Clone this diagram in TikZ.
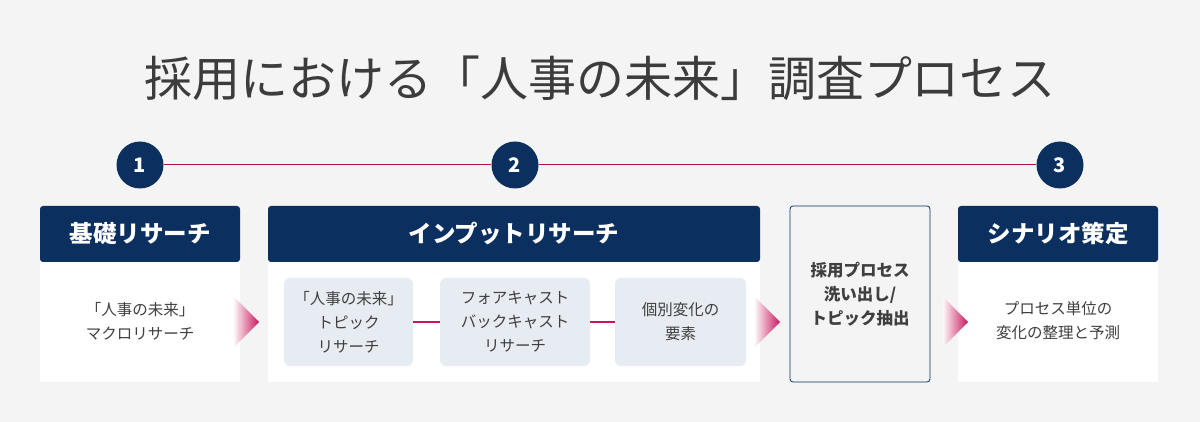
\documentclass[tikz,border=0pt]{standalone}
\usepackage{fontspec}
\setmainfont{Noto Sans CJK JP}
\usepackage{tikz}
\usetikzlibrary{positioning}

\definecolor{bggray}{HTML}{F4F4F4}
\definecolor{navy}{HTML}{0B3060}
\definecolor{accent}{HTML}{C8185C}
\definecolor{topicfill}{HTML}{E6ECF2}
\definecolor{txtgray}{HTML}{3F3F3F}

\begin{document}
\begin{tikzpicture}[x=1pt, y=-1pt,
    every node/.style={font=\fontsize{15.5}{24}\selectfont, text=txtgray, align=center},
    stepnum/.style={
      circle, fill=navy, text=white, minimum size=47pt, inner sep=0pt,
      font=\fontsize{20}{24}\selectfont\bfseries
    },
    headbar/.style={
      fill=navy, text=white, rounded corners=3pt,
      minimum height=56pt, inner sep=0pt,
      font=\fontsize{23.5}{26}\selectfont\bfseries
    },
    bodybox/.style={fill=white, minimum height=150pt, inner sep=0pt},
    topic/.style={
      fill=topicfill, rounded corners=6pt,
      minimum height=88pt, inner sep=0pt
    },
    midbox/.style={
      draw=navy, line width=0.8pt, fill=bggray, rounded corners=3pt,
      minimum width=140pt, minimum height=176pt, inner sep=0pt,
      font=\fontsize{16.5}{24}\selectfont\bfseries
    },
    timeline/.style={draw=accent!85!black, line width=1pt},
    link/.style={draw=accent, line width=2pt},
    chevron/.style={left color=accent!4, right color=accent, draw=none}
  ]

    % canvas
    \fill[bggray] (0,0) rectangle (1200,422);
    \useasboundingbox (0,0) rectangle (1200,422);

    \node[font=\fontsize{48}{52}\selectfont, text=txtgray!95!black] (title) at (600,78)
      {採用における「人事の未来」調査プロセス};

    % step markers
    \node[stepnum] (s1) at (140,165) {1};
    \node[stepnum] (s2) at (515,165) {2};
    \node[stepnum] (s3) at (1060,165) {3};

    % base research
    \node[bodybox, minimum width=200pt] (basebody) at (140,307) {};
    \node[headbar, minimum width=200pt] (basehead) at (140,234) {基礎リサーチ};
    \node (basetxt) at (140,321) {「人事の未来」\\マクロリサーチ};

    % input research
    \node[bodybox, minimum width=492pt] (inbody) at (514,307) {};
    \node[headbar, minimum width=492pt] (inhead) at (514,234) {インプットリサーチ};
    \node[topic, minimum width=129pt] (topa) at (348.5,322) {「人事の未来」\\トピック\\リサーチ};
    \node[topic, minimum width=150pt] (topb) at (515,322) {フォアキャスト\\バックキャスト\\リサーチ};
    \node[topic, minimum width=131pt] (topc) at (680.5,322) {個別変化の\\要素};

    % extraction
    \node[midbox] (extract) at (860,294) {採用プロセス\\洗い出し/\\トピック抽出};

    % scenario
    \node[bodybox, minimum width=200pt] (scnbody) at (1058,307) {};
    \node[headbar, minimum width=200pt] (scnhead) at (1058,234) {シナリオ策定};
    \node (scntxt) at (1058,321) {プロセス単位の\\変化の整理と予測};

    \draw[timeline] (s1) -- (s2);
    \draw[timeline] (s2) -- (s3);
    \draw[link] (topa) -- (topb);
    \draw[link] (topb) -- (topc);

    % chevrons
    \coordinate (g1) at (234,322);
    \coordinate (g2) at (755,322);
    \coordinate (g3) at (943,322);
    \foreach \g in {g1,g2,g3}
      \shade[chevron] (\g) ++(0,-25) -- ++(25,25) -- ++(-25,25) -- cycle;

  \end{tikzpicture}
\end{document}
